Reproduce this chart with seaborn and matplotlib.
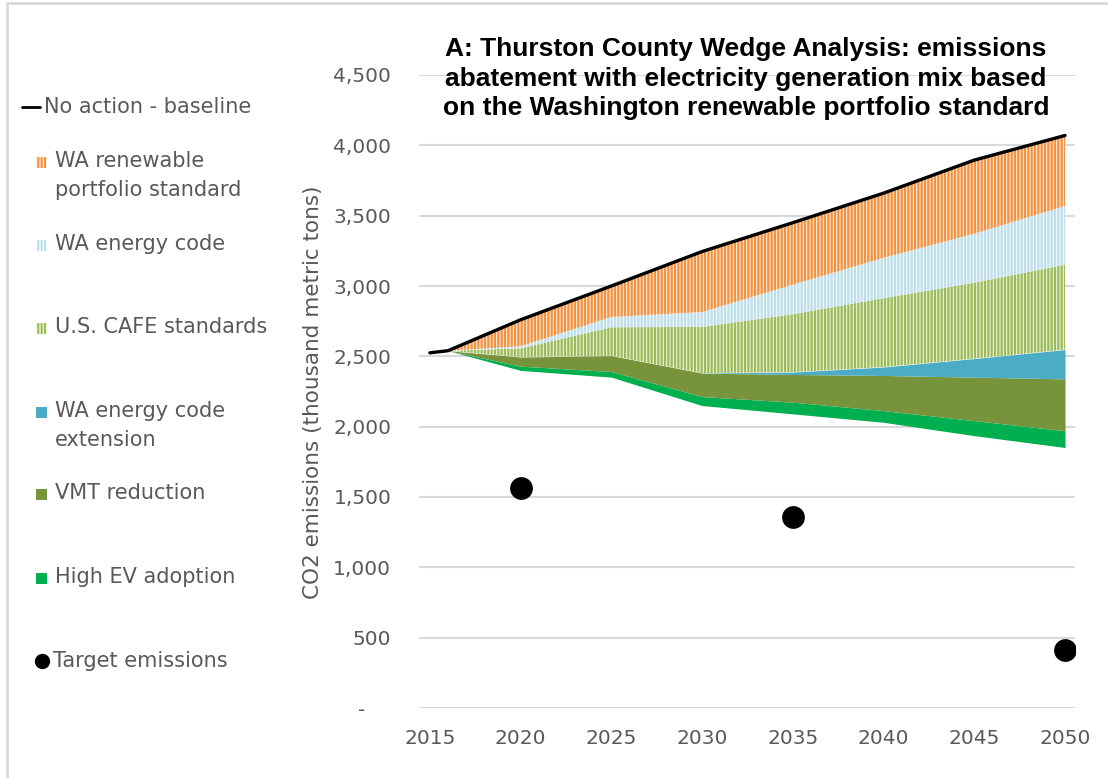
import numpy as np
import seaborn as sns
import matplotlib.pyplot as plt
from matplotlib import font_manager
from matplotlib.patches import Rectangle
from matplotlib.lines import Line2D

# wedge analysis, thousand metric tons CO2
years = [2015, 2016, 2020, 2025, 2030, 2035, 2040, 2045, 2050]
baseline = [2525, 2540, 2760, 3000, 3245, 3450, 3660, 3895, 4070]
remaining = [2525, 2540, 2400, 2352, 2150, 2091, 2031, 1936, 1852]
high_ev = [0, 0, 30, 40, 64, 83, 83, 107, 119]
vmt = [0, 0, 65, 113, 167, 197, 250, 309, 369]
code_ext = [0, 0, 0, 0, 0, 17, 60, 132, 208]
cafe = [0, 0, 62, 202, 328, 412, 490, 540, 604]
energy_code = [0, 0, 15, 73, 106, 210, 286, 348, 417]
rps = [0, 0, 188, 220, 430, 440, 460, 523, 501]

target_years = [2020, 2035, 2050]
target_values = [1565, 1355, 415]

sns.set_style("white")
plt.rcParams["font.family"] = ["DejaVu Sans"]
plt.rcParams["hatch.linewidth"] = 1.6

grey = "#595959"
fs = 14.5
lfs = 15

# title font: Arial look-alike, picked by file so the Narrow cut is not used
title_font = None
for f in font_manager.findSystemFonts():
    if f.endswith("LiberationSans-Bold.ttf"):
        title_font = font_manager.FontProperties(fname=f, size=19)
if title_font is None:
    title_font = font_manager.FontProperties(family="DejaVu Sans", weight="bold", size=17)

# (values, label, face, hatch colour, hatch)
layers = [
    (high_ev, "High EV adoption", "#00b050", "#00b050", None),
    (vmt, "VMT reduction", "#77933c", "#77933c", None),
    (code_ext, "WA energy code\nextension", "#4bacc6", "#4bacc6", None),
    (cafe, "U.S. CAFE standards", "#eef3dc", "#9bbb59", "|||||"),
    (energy_code, "WA energy code", "#f2f9fb", "#bfe0ea", "|||||"),
    (rps, "WA renewable\nportfolio standard", "#fdeedd", "#f39140", "|||||"),
]

fig = plt.figure(figsize=(11.08, 7.78), dpi=100)
ax = fig.add_axes([419 / 1108, 1 - 708 / 778, (1075 - 419) / 1108, (708 - 75) / 778])

lower = np.array(remaining, dtype=float)
for vals, label, face, hc, hatch in layers:
    upper = lower + np.array(vals)
    ax.fill_between(years, lower, upper, facecolor=face, edgecolor=hc,
                    hatch=hatch, lw=0, zorder=2)
    lower = upper

sns.lineplot(x=years, y=baseline, color="black", lw=2.4, ax=ax, zorder=4)
sns.scatterplot(x=target_years, y=target_values, s=230, color="black",
                edgecolor="black", ax=ax, zorder=5)

ax.set_xlim(2014.4, 2050.55)
ax.set_ylim(0, 4500)
ax.set_xticks(range(2015, 2051, 5))
ax.set_yticks(range(0, 4501, 500))
ax.set_yticklabels(["-    " if v == 0 else f"{v:,}" for v in range(0, 4501, 500)])
ax.grid(axis="y", color="#d9d9d9", lw=1.5, zorder=0)
ax.grid(axis="x", visible=False)
for s in ax.spines.values():
    s.set_visible(False)
ax.tick_params(axis="y", length=0, pad=20, labelsize=fs, labelcolor=grey)
ax.tick_params(axis="x", length=0, pad=15, labelsize=fs, labelcolor=grey)
ax.set_xlabel("")
ax.set_ylabel("")

fig.text(313 / 1108, 1 - 392 / 778, "CO2 emissions (thousand metric tons)",
         rotation=90, ha="center", va="center", fontsize=15.5, color=grey)

fig.text(746 / 1108, 1 - 37 / 778,
         "A: Thurston County Wedge Analysis: emissions\n"
         "abatement with electricity generation mix based\n"
         "on the Washington renewable portfolio standard",
         ha="center", va="top", fontproperties=title_font, linespacing=1.3,
         color="black")

# legend, drawn by hand to keep Excel's uneven spacing
def fx(px):
    return px / 1108

def fy(py):
    return 1 - py / 778

fig.add_artist(Line2D([fx(22), fx(40)], [fy(107), fy(107)], color="black", lw=2))
fig.text(fx(44), fy(107), "No action - baseline", va="center", fontsize=lfs, color=grey)

legend_y = {"WA renewable\nportfolio standard": 162, "WA energy code": 245,
            "U.S. CAFE standards": 328, "WA energy code\nextension": 412,
            "VMT reduction": 494, "High EV adoption": 578}
for vals, label, face, hc, hatch in layers:
    y = legend_y[label]
    fig.add_artist(Rectangle((fx(36), fy(y + 6)), 11 / 1108, 11 / 778,
                             facecolor=face if hatch is None else "white",
                             edgecolor=hc, hatch=hatch, lw=0))
    fig.text(fx(55), fy(y - 11), label, va="top", ha="left", fontsize=lfs,
             color=grey, linespacing=1.55)

fig.add_artist(Line2D([fx(42)], [fy(661)], marker="o", color="black", markersize=10))
fig.text(fx(53), fy(661), "Target emissions", va="center", fontsize=lfs, color=grey)

# outer chart border (top and left only visible)
fig.add_artist(Line2D([fx(7), 1], [fy(3), fy(3)], color="#d9d9d9", lw=2))
fig.add_artist(Line2D([fx(7), fx(7)], [fy(3), 0], color="#d9d9d9", lw=2))

fig.savefig("out.png", dpi=100)
